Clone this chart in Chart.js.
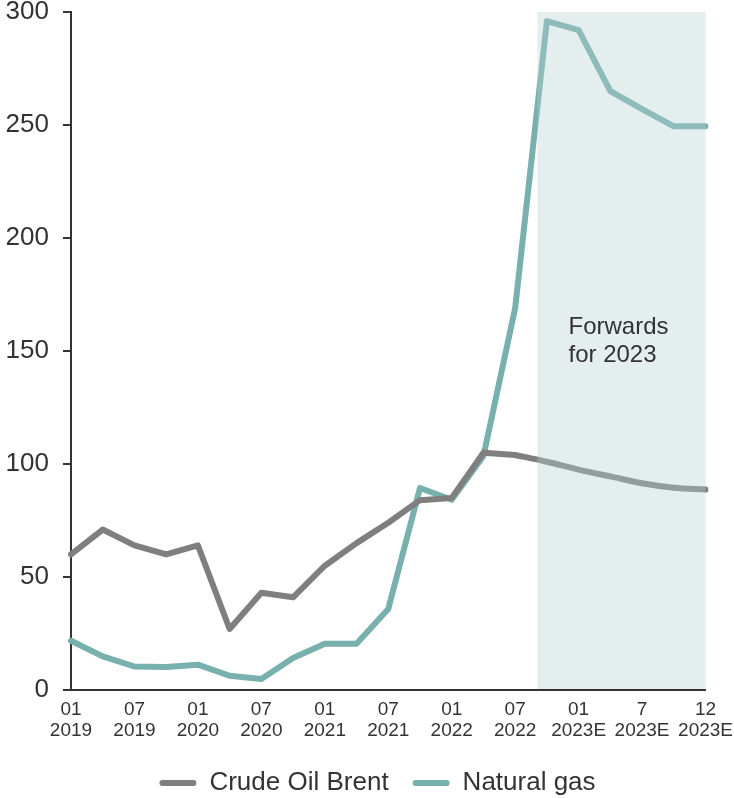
<!DOCTYPE html>
<html>
<head>
<meta charset="utf-8">
<script src="https://cdn.jsdelivr.net/npm/chart.js@4.4.1/dist/chart.umd.min.js"></script>
<style>
  html, body { margin: 0; padding: 0; background: #fff; }
  #wrap { width: 734px; height: 798px; position: relative; }
</style>
</head>
<body>
<div id="wrap"><canvas id="c"></canvas></div>
<script>
// Quarterly periods, month / year
const periods = [
  ['01','2019'], ['04','2019'], ['07','2019'], ['10','2019'],
  ['01','2020'], ['04','2020'], ['07','2020'], ['10','2020'],
  ['01','2021'], ['04','2021'], ['07','2021'], ['10','2021'],
  ['01','2022'], ['04','2022'], ['07','2022'], ['10','2022'],
  ['01','2023E'], ['4','2023E'], ['7','2023E'], ['10','2023E'], ['12','2023E']
];
// Periods that carry an axis label
const labelledPeriods = [0, 2, 4, 6, 8, 10, 12, 14, 16, 18, 20];

const brentPrices = [60, 71, 64, 60, 64, 27, 43, 41, 55, 65, 74, 84, 85, 105, 104, 101, 97.5, 94.5, 91.5, 89.5, 88.7];
const gasPrices   = [21.8, 14.9, 10.4, 10.2, 11.2, 6.3, 4.9, 14.2, 20.5, 20.5, 35.8, 89.4, 84.2, 103.5, 169, 296, 292, 265, 257, 249.4, 249.4];

// Brent forward curve starts here (drawn smoothed)
const brentForwardFrom = 14;
// Forward window shading, in period-index units
const forwardBandStart = 14.7;
const forwardNote = ['Forwards', 'for 2023'];

const FONT = '"Liberation Sans", Arial, Helvetica, sans-serif';
const TEXT = '#333333';
const BRENT = '#7f7f7f';
const GAS = '#78b0ad';

const brentHistory = brentPrices.map((v, i) => i <= brentForwardFrom ? v : null);
const brentForward = brentPrices.map((v, i) => i >= brentForwardFrom ? v : null);

const forwardBand = {
  id: 'forwardBand',
  afterDatasetsDraw(chart) {
    const { ctx, scales: { x, y } } = chart;
    const left = x.getPixelForValue(forwardBandStart);
    const right = x.getPixelForValue(periods.length - 1);
    const top = y.getPixelForValue(300);
    const bottom = y.getPixelForValue(0) - 1;
    ctx.save();
    ctx.fillStyle = 'rgba(181, 210, 212, 0.37)';
    ctx.fillRect(left, top, right - left, bottom - top);
    ctx.fillStyle = TEXT;
    ctx.font = '24px ' + FONT;
    ctx.textAlign = 'left';
    ctx.textBaseline = 'alphabetic';
    const tx = x.getPixelForValue(15.68);
    const ty = y.getPixelForValue(157.5);
    forwardNote.forEach((t, i) => ctx.fillText(t, tx, ty + i * 28));
    ctx.restore();
  }
};

// Nudge the legend so it sits centred under the plot, near the bottom edge
const legendPlacement = {
  id: 'legendPlacement',
  afterLayout(chart) {
    const lg = chart.legend;
    if (!lg) return;
    const dx = 22, dy = 746 - lg.top;
    lg.left += dx; lg.right += dx;
    lg.top += dy; lg.bottom += dy;
  }
};

const lineStyle = {
  borderWidth: 6,
  pointRadius: 0,
  pointHoverRadius: 0,
  borderCapStyle: 'round',
  borderJoinStyle: 'round',
  fill: false,
  spanGaps: false
};

new Chart(document.getElementById('c'), {
  type: 'line',
  data: {
    labels: periods,
    datasets: [
      { ...lineStyle, label: 'Crude Oil Brent', data: brentHistory, borderColor: BRENT, backgroundColor: BRENT, tension: 0 },
      { ...lineStyle, label: 'Brent forward', data: brentForward, borderColor: BRENT, backgroundColor: BRENT, tension: 0.4, cubicInterpolationMode: 'monotone' },
      { ...lineStyle, label: 'Natural gas', data: gasPrices, borderColor: GAS, backgroundColor: GAS, tension: 0 }
    ]
  },
  options: {
    responsive: true,
    maintainAspectRatio: false,
    animation: false,
    events: [],
    layout: { padding: { top: 12, right: 23, left: 0, bottom: 0 } },
    plugins: {
      tooltip: { enabled: false },
      legend: {
        position: 'bottom',
        labels: {
          color: TEXT,
          font: { family: FONT, size: 26 },
          boxWidth: 37,
          boxHeight: 6,
          useBorderRadius: true,
          borderRadius: 3,
          padding: 24,
          filter: (item) => item.datasetIndex !== 1,
          generateLabels(chart) {
            return Chart.defaults.plugins.legend.labels.generateLabels(chart).map(l => {
              l.fillStyle = l.strokeStyle;
              l.lineWidth = 0;
              return l;
            });
          }
        }
      }
    },
    scales: {
      x: {
        type: 'category',
        offset: false,
        grid: { display: false },
        border: { display: true, color: TEXT, width: 2 },
        ticks: {
          autoSkip: false,
          maxRotation: 0,
          minRotation: 0,
          padding: 1,
          color: TEXT,
          font: { family: FONT, size: 19, lineHeight: 1.1 },
          callback: (value, index) => labelledPeriods.includes(index) ? periods[index] : ''
        },
        afterFit(scale) { scale.height = 48; }
      },
      y: {
        min: 0,
        max: 300,
        grid: { drawOnChartArea: false, drawTicks: true, tickLength: 8, color: TEXT, lineWidth: 2 },
        border: { display: true, color: TEXT, width: 2 },
        ticks: {
          stepSize: 50,
          padding: 14,
          color: TEXT,
          font: { family: FONT, size: 26, lineHeight: 0.9 }
        },
        afterFit(scale) {
          scale.width = 71;
          scale.paddingTop = 0;
          scale.paddingBottom = 0;
        }
      }
    }
  },
  plugins: [forwardBand, legendPlacement]
});
</script>
</body>
</html>
